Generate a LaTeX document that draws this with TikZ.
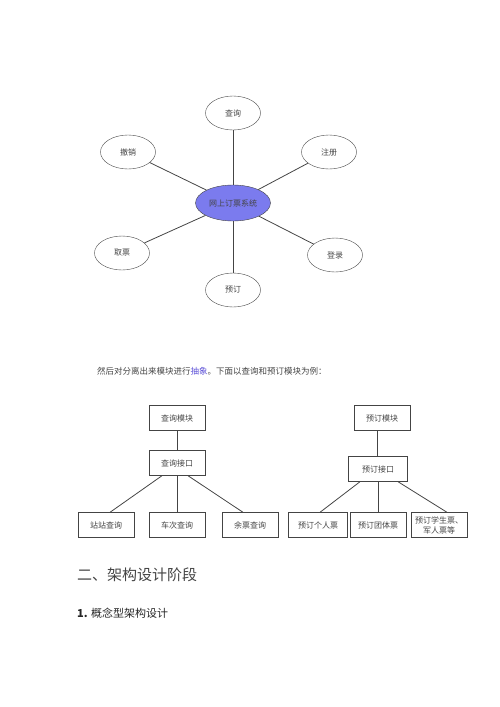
\documentclass[tikz,border=0pt]{standalone}
\usepackage{fontspec}
\newfontfamily\cjk{Noto Sans CJK SC}
\usetikzlibrary{positioning,shapes.geometric}
\definecolor{hubfill}{HTML}{7B7BEE}
\definecolor{inkgray}{HTML}{444444}
\definecolor{linkblue}{HTML}{5B4FD6}
\tikzset{
  oval/.style={ellipse,draw=inkgray,minimum width=55pt,minimum height=34pt,inner sep=0pt,font=\cjk\fontsize{8}{9}\selectfont,text=inkgray},
  hub/.style={oval,fill=hubfill,minimum width=75pt,minimum height=36pt},
  module/.style={draw=inkgray,minimum width=56pt,minimum height=25pt,inner sep=1pt,align=center,font=\cjk\fontsize{8}{10}\selectfont,text=inkgray},
  link/.style={draw=inkgray,line width=0.8pt}
}
\begin{document}
\begin{tikzpicture}[x=1pt,y=-1pt]
  \useasboundingbox (0,0) rectangle (500,707);
  % system overview
  \node[hub] (sys) at (233,203) {网上订票系统};
  \node[oval] (query) at (233,113) {查询};
  \node[oval] (cancel) at (128,152) {撤销};
  \node[oval] (signup) at (329,152) {注册};
  \node[oval] (fetch) at (122,253) {取票};
  \node[oval] (login) at (335,255) {登录};
  \node[oval] (book) at (233,290) {预订};
  \foreach \n in {query,cancel,signup,fetch,login,book}
    \draw[link] (sys) -- (\n);
  % caption line
  \node[anchor=west,inner sep=0pt,font=\cjk\fontsize{8.5}{10}\selectfont,text=inkgray] (note) at (97,371)
    {然后对分离出来模块进行\textcolor{linkblue}{抽象}。下面以查询和预订模块为例：};
  % query module
  \node[module] (qmod) at (177,418) {查询模块};
  \node[module] (qif) at (177,463) {查询接口};
  \node[module] (q1) at (106,525) {站站查询};
  \node[module] (q2) at (177,525) {车次查询};
  \node[module] (q3) at (250,525) {余票查询};
  \draw[link] (qmod) -- (qif);
  \draw[link] ([xshift=-15pt]qif.south) -- ([xshift=4pt]q1.north);
  \draw[link] (qif) -- (q2);
  \draw[link] ([xshift=11pt]qif.south) -- ([xshift=-7pt]q3.north);
  % booking module
  \node[module] (bmod) at (382,418) {预订模块};
  \node[module,minimum width=59pt] (bif) at (378,469) {预订接口};
  \node[module,minimum width=59pt] (b1) at (318,525) {预订个人票};
  \node[module] (b2) at (378,525) {预订团体票};
  \node[module] (b3) at (439,525) {预订学生票、\\军人票等};
  \draw[link] ([xshift=-5pt]bmod.south) -- ([xshift=-1pt]bif.north);
  \draw[link] ([xshift=-18pt]bif.south) -- ([xshift=2pt]b1.north);
  \draw[link] (bif) -- (b2);
  \draw[link] ([xshift=20pt]bif.south) -- ([xshift=8pt]b3.north);
  % headings
  \node[anchor=west,inner sep=0pt,font=\cjk\fontsize{15}{17}\selectfont,text=inkgray] (sec) at (77,575) {二、架构设计阶段};
  \node[anchor=west,inner sep=0pt,font=\cjk\fontsize{11}{13}\selectfont,text=black!85] (subsec) at (77,613) {\textbf{1.} 概念型架构设计};
\end{tikzpicture}
\end{document}
